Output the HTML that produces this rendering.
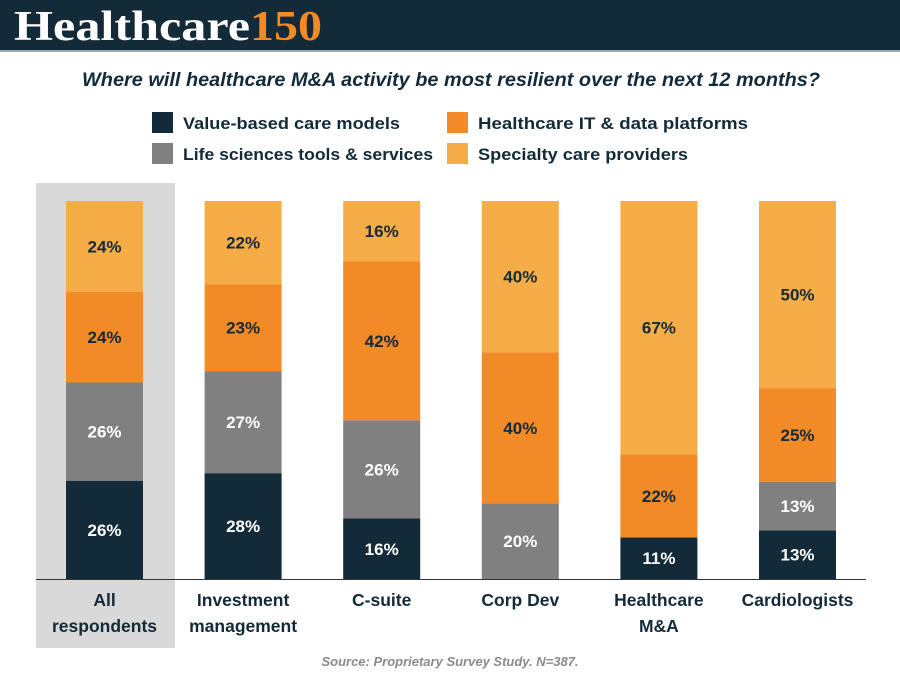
<!DOCTYPE html>
<html><head><meta charset="utf-8"><style>
body{margin:0;width:900px;height:675px;background:#fff;overflow:hidden;font-family:"Liberation Sans",sans-serif}
</style></head><body>
<svg width="900" height="675" xmlns="http://www.w3.org/2000/svg">
<rect x="0" y="0" width="900" height="50" fill="#132a38"/>
<rect x="0" y="50" width="900" height="2" fill="#9aa7ad"/>
<text x="14" y="40" font-family="Liberation Serif,serif" font-weight="bold" font-size="42" fill="#fff" textLength="236" lengthAdjust="spacingAndGlyphs">Healthcare</text>
<text x="250" y="40" font-family="Liberation Serif,serif" font-weight="bold" font-size="42" fill="#f28a25" textLength="72" lengthAdjust="spacingAndGlyphs">150</text>
<text x="451" y="86" text-anchor="middle" font-style="italic" font-weight="bold" font-size="19" fill="#132a38" textLength="738" lengthAdjust="spacingAndGlyphs">Where will healthcare M&amp;A activity be most resilient over the next 12 months?</text>
<g id="legend" font-weight="bold" font-size="17" fill="#132a38"></g>
<rect x="36" y="183" width="139" height="465" fill="#d9d9d9"/>
<g id="bars"></g>
<line x1="36" y1="579.5" x2="866" y2="579.5" stroke="#333" stroke-width="1"/>
<g id="xlabels" font-weight="bold" font-size="17.5" fill="#132a38" text-anchor="middle"></g>
<text x="450" y="666" text-anchor="middle" font-style="italic" font-weight="bold" font-size="13" fill="#8a8a8a">Source: Proprietary Survey Study. N=387.</text>
</svg>
<script>
const categories=[["All","respondents"],["Investment","management"],["C-suite"],["Corp Dev"],["Healthcare","M&A"],["Cardiologists"]];
const seriesNames=["Value-based care models","Life sciences tools & services","Healthcare IT & data platforms","Specialty care providers"];
const valueBased=[26,28,16,0,11,13];
const lifeSciences=[26,27,26,20,0,13];
const healthIT=[24,23,42,40,22,25];
const specialty=[24,22,16,40,67,50];
const series=[valueBased,lifeSciences,healthIT,specialty];
const colors=["#132a38","#808080","#f28a25","#f6ad48"];
const textColors=["#fff","#fff","#132a38","#132a38"];
const NS="http://www.w3.org/2000/svg";
const baseY=579,plotH=378,barW=77,x0=66,step=138.6;
const xPos=i=>x0+i*step;
function mk(tag,attrs,parent){const e=document.createElementNS(NS,tag);for(const k in attrs)e.setAttribute(k,attrs[k]);parent.appendChild(e);return e;}
const bars=document.getElementById('bars');
categories.forEach((c,i)=>{
  let y=baseY;
  const total=series.reduce((a,s)=>a+s[i],0);
  const yScale=v=>v/total*plotH;
  series.forEach((s,j)=>{
    const v=s[i];if(!v)return;
    const h=yScale(v);y-=h;
    const r=mk('rect',{x:xPos(i),y:y,width:barW,height:h,fill:colors[j]},bars);
    
    
    const t=mk('text',{x:xPos(i)+barW/2,y:y+h/2+6,'text-anchor':'middle','font-weight':'bold','font-size':17,fill:textColors[j]},bars);
    t.textContent=v+'%';
    
    
  });
  const xl=document.getElementById('xlabels');
  c.forEach((line,k)=>{
    const t=mk('text',{x:xPos(i)+barW/2,y:606+k*26},xl);
    t.textContent=line;
    
    
  });
});
const lg=document.getElementById('legend');
const lpos=[[152,112],[152,143],[447,112],[447,143]];
const lw=[217,250,270,210];
seriesNames.forEach((n,j)=>{
  const g=mk('g',{},lg);
  
  
  mk('rect',{x:lpos[j][0],y:lpos[j][1],width:21,height:21,fill:colors[j]},g);
  const t=mk('text',{x:lpos[j][0]+31,y:lpos[j][1]+17,textLength:lw[j],lengthAdjust:'spacingAndGlyphs'},g);t.textContent=n;
});
</script>
</body></html>
